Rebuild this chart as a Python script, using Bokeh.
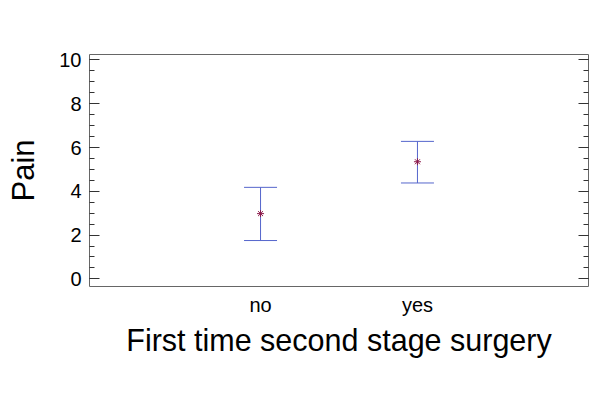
from bokeh.plotting import figure
from bokeh.models import (ColumnDataSource, Whisker, TeeHead, FactorRange, Range1d,
                          LinearAxis, SingleIntervalTicker, CustomJSTickFormatter)
from bokeh.embed import file_html
from bokeh.resources import INLINE

categories = ["no", "yes"]
means = [2.98, 5.35]
lower = [1.75, 4.38]
upper = [4.18, 6.28]

source = ColumnDataSource(data=dict(cat=categories, mean=means, lower=lower, upper=upper))

FONT = "Liberation Sans"

p = figure(width=600, height=399, output_backend="svg", toolbar_location=None,
           x_range=FactorRange(factors=categories, range_padding=0.59),
           y_range=Range1d(-0.35, 10.25),
           min_border_left=89, min_border_right=12, min_border_top=54, min_border_bottom=113)

p.grid.visible = False
p.outline_line_color = "#666666"
p.outline_line_width = 1
p.background_fill_color = "white"
p.border_fill_color = "white"

# left axis
yax = p.yaxis[0]
yax.ticker = SingleIntervalTicker(interval=2, num_minor_ticks=4)
yax.major_tick_in = 10
yax.major_tick_out = 0
yax.minor_tick_in = 5
yax.minor_tick_out = 0
yax.axis_line_color = None
yax.major_tick_line_color = "#333333"
yax.minor_tick_line_color = "#333333"
yax.major_label_standoff = 8
yax.major_label_text_font = FONT
yax.major_label_text_font_size = "20px"
yax.major_label_text_color = "black"
yax.axis_label = "Pain"
yax.axis_label_text_font = FONT
yax.axis_label_text_font_size = "31px"
yax.axis_label_text_font_style = "normal"
yax.axis_label_text_color = "black"
yax.axis_label_standoff = 15

# right mirrored axis (ticks only)
rax = LinearAxis(ticker=SingleIntervalTicker(interval=2, num_minor_ticks=4),
                 formatter=CustomJSTickFormatter(code="return ''"))
rax.major_tick_in = 10
rax.major_tick_out = 0
rax.minor_tick_in = 5
rax.minor_tick_out = 0
rax.axis_line_color = None
rax.major_tick_line_color = "#333333"
rax.minor_tick_line_color = "#333333"
rax.major_label_standoff = 0
p.add_layout(rax, "right")

# bottom axis
xax = p.xaxis[0]
xax.axis_line_color = None
xax.major_tick_line_color = None
xax.minor_tick_line_color = None
xax.major_tick_in = 0
xax.major_tick_out = 0
xax.major_label_standoff = 7
xax.major_label_text_font = FONT
xax.major_label_text_font_size = "20px"
xax.major_label_text_color = "black"
xax.axis_label = "First time second stage surgery"
xax.axis_label_text_font = FONT
xax.axis_label_text_font_size = "30.5px"
xax.axis_label_text_font_style = "normal"
xax.axis_label_text_color = "black"
xax.axis_label_standoff = 4

wcolor = "#5566cc"
w = Whisker(source=source, base="cat", upper="upper", lower="lower",
            line_color=wcolor, line_width=1,
            upper_head=TeeHead(size=33, line_color=wcolor, line_width=1),
            lower_head=TeeHead(size=33, line_color=wcolor, line_width=1))
p.add_layout(w)

p.scatter(x="cat", y="mean", source=source, marker="asterisk", size=7,
          line_color="#8b1a4a", line_width=1.0)

open("out.html", "w").write(file_html(p, INLINE))
